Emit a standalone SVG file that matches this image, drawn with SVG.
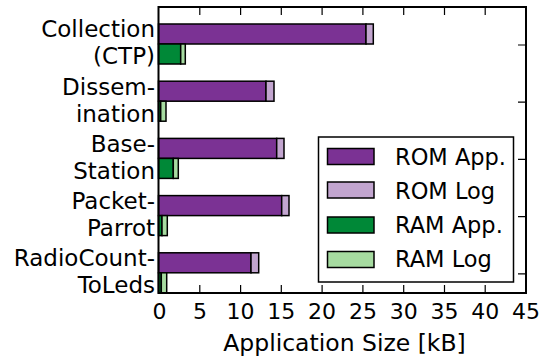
<svg xmlns="http://www.w3.org/2000/svg" width="542" height="360" viewBox="0 0 542 360">
<style>
text{font-family:"DejaVu Sans","Liberation Sans",sans-serif;fill:#000}
.yl{font-size:23px;text-anchor:end}
.xl{font-size:22px;text-anchor:middle}
.lg{font-size:22.5px}
.bar{stroke:#000;stroke-width:1.5}
.ra{fill:#7b3294}.rl{fill:#c2a5cf}.aa{fill:#008837}.al{fill:#a6dba0}
.tk{stroke:#000;stroke-width:1.2;fill:none}
</style>
<rect x="0" y="0" width="542" height="360" fill="#fff"/>
<g id="bars">
<rect class="bar ra" x="158.5" y="24" width="207.5" height="20"/>
<rect class="bar rl" x="366" y="24" width="7.3" height="20"/>
<rect class="bar aa" x="158.5" y="44" width="22.2" height="20"/>
<rect class="bar al" x="180.7" y="44" width="4.6" height="20"/>

<rect class="bar ra" x="158.5" y="81.2" width="107.5" height="20"/>
<rect class="bar rl" x="266" y="81.2" width="8" height="20"/>
<rect class="bar aa" x="158.5" y="101.2" width="2.2" height="20"/>
<rect class="bar al" x="160.7" y="101.2" width="5.3" height="20"/>

<rect class="bar ra" x="158.5" y="138.4" width="118.2" height="20"/>
<rect class="bar rl" x="276.7" y="138.4" width="7.3" height="20"/>
<rect class="bar aa" x="158.5" y="158.4" width="14.8" height="20"/>
<rect class="bar al" x="173.3" y="158.4" width="5" height="20"/>

<rect class="bar ra" x="158.5" y="195.6" width="123.2" height="20"/>
<rect class="bar rl" x="281.7" y="195.6" width="7.3" height="20"/>
<rect class="bar aa" x="158.5" y="215.6" width="3.5" height="20"/>
<rect class="bar al" x="162" y="215.6" width="5.3" height="20"/>

<rect class="bar ra" x="158.5" y="252.8" width="92.5" height="20"/>
<rect class="bar rl" x="251" y="252.8" width="7.7" height="20"/>
<rect class="bar aa" x="158.5" y="272.8" width="2.8" height="20"/>
<rect class="bar al" x="161.3" y="272.8" width="5.4" height="20"/>
</g>
<g id="axes">
<path class="tk" d="M199.8 7v8M240.6 7v8M281.3 7v8M322.1 7v8M362.9 7v8M403.7 7v8M444.5 7v8M485.2 7v8M199.8 293v-8M240.6 293v-8M281.3 293v-8M322.1 293v-8M362.9 293v-8M403.7 293v-8M444.5 293v-8M485.2 293v-8M526 45h-8M526 102.2h-8M526 159.4h-8M526 216.6h-8M526 273.8h-8"/>
<rect x="158.5" y="7" width="367.5" height="286" fill="none" stroke="#000" stroke-width="2"/>
</g>
<g id="ylabels">
<text class="yl" x="155" y="37.3">Collection</text>
<text class="yl" x="155" y="64.3">(CTP)</text>
<text class="yl" x="155" y="94.5">Dissem-</text>
<text class="yl" x="155" y="121.5">ination</text>
<text class="yl" x="155" y="151.7">Base-</text>
<text class="yl" x="155" y="178.7">Station</text>
<text class="yl" x="155" y="208.9">Packet-</text>
<text class="yl" x="155" y="235.9">Parrot</text>
<text class="yl" x="155" y="266.1">RadioCount-</text>
<text class="yl" x="155" y="293.1">ToLeds</text>
</g>
<g id="xlabels">
<text class="xl" x="159.5" y="319">0</text>
<text class="xl" x="200" y="319">5</text>
<text class="xl" x="240.6" y="319">10</text>
<text class="xl" x="281.3" y="319">15</text>
<text class="xl" x="322.1" y="319">20</text>
<text class="xl" x="362.9" y="319">25</text>
<text class="xl" x="403.7" y="319">30</text>
<text class="xl" x="444.5" y="319">35</text>
<text class="xl" x="485.2" y="319">40</text>
<text class="xl" x="526" y="319">45</text>
<text x="344.5" y="351" style="font-size:23.5px;text-anchor:middle">Application Size [kB]</text>
</g>
<g id="legend">
<rect x="318.5" y="137" width="195" height="145" fill="#fff" stroke="#000" stroke-width="1.5"/>
<rect class="bar ra" x="327.5" y="148.5" width="46.5" height="16"/>
<rect class="bar rl" x="327.5" y="182" width="46.5" height="16"/>
<rect class="bar aa" x="327.5" y="217" width="46.5" height="16"/>
<rect class="bar al" x="327.5" y="251.5" width="46.5" height="16"/>
<text class="lg" x="395" y="164.5">ROM App.</text>
<text class="lg" x="395" y="198.5">ROM Log</text>
<text class="lg" x="395" y="233">RAM App.</text>
<text class="lg" x="395" y="267">RAM Log</text>
</g>
</svg>
